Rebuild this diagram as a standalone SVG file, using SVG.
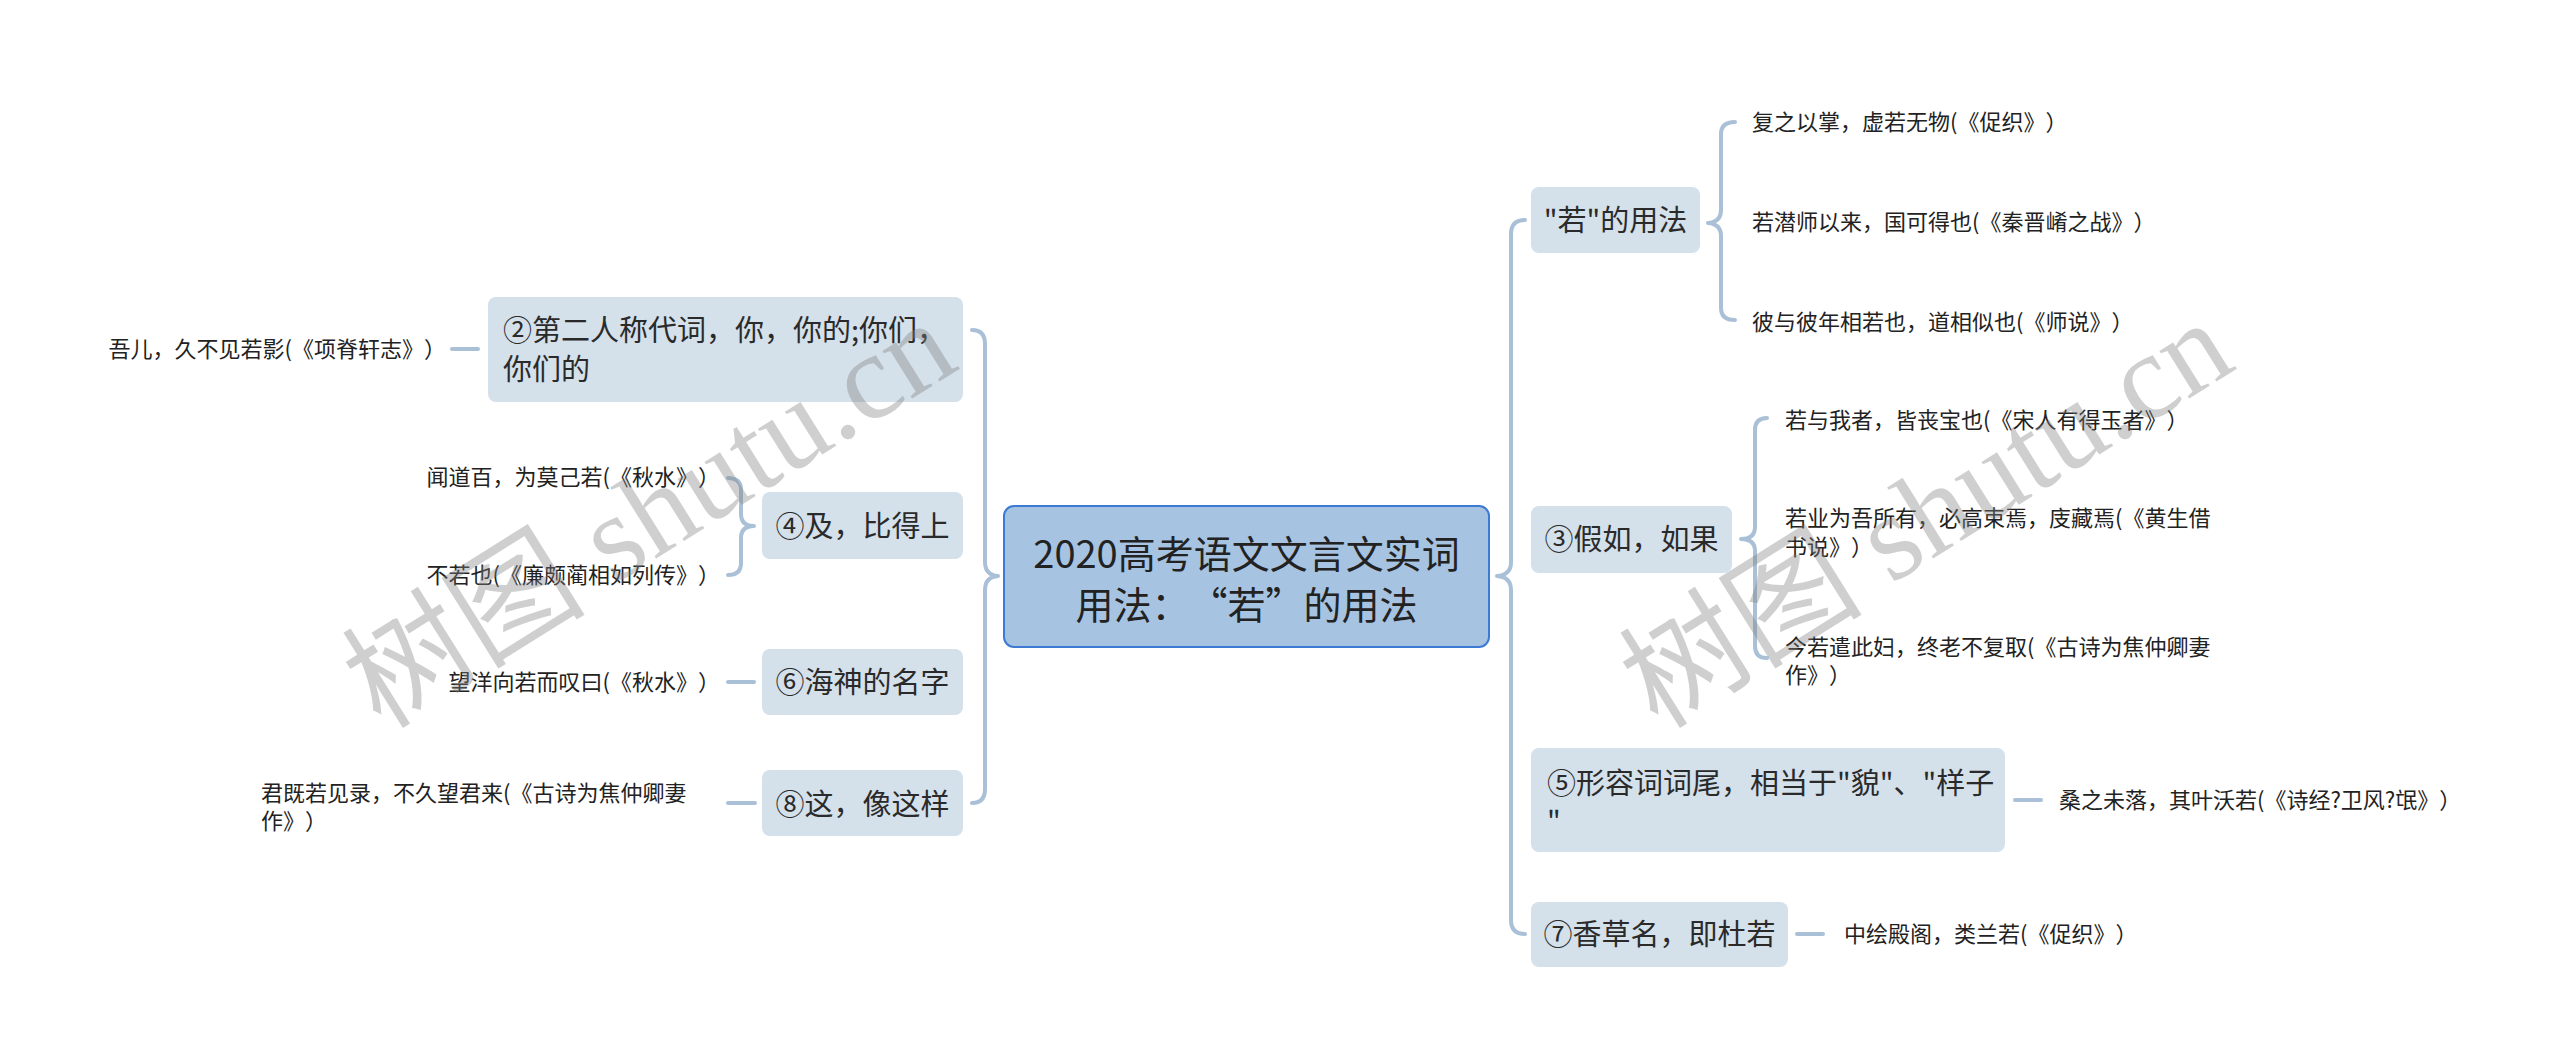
<svg xmlns="http://www.w3.org/2000/svg" width="2560" height="1063" viewBox="0 0 2560 1063">
<defs>
<style>
text{font-family:"Noto Sans CJK SC","Noto Sans",sans-serif;fill:#2a2a2a;text-spacing-trim:space-all}
.box{fill:#d4e0ea}
.root{fill:#a6c3e1;stroke:#3d7ad4;stroke-width:2}
.nt{font-size:29px}
.rt{font-size:38px;text-anchor:middle;fill:#222}
.lt{font-size:22px;fill:#222}
.mid{text-anchor:middle}
.end{text-anchor:end}
.con{fill:none;stroke:#a9c0d7;stroke-width:4;stroke-linecap:round;stroke-linejoin:round}
.wm{font-family:"Liberation Serif","Noto Sans CJK SC",serif;font-size:122px;fill:#808080;fill-opacity:0.38;text-anchor:middle}
</style>
</defs>
<rect width="2560" height="1063" fill="#ffffff"/>

<g id="connectors">
<path class="con" d="M972 330 Q985 330 985 344 L985 562 Q985 575 998 576 Q985 577 985 590 L985 789 Q985 803 972 803"/>
<path class="con" d="M1525 220 Q1511 220 1511 234 L1511 562 Q1511 575 1497 576 Q1511 577 1511 590 L1511 920 Q1511 934 1525 934"/>
<path class="con" d="M728 478 Q741 478 741 490 L741 514 Q741 526 754 526 Q741 526 741 538 L741 563 Q741 575 728 575"/>
<path class="con" d="M1735 122 Q1721 122 1721 134 L1721 210 Q1721 222 1708 223 Q1721 224 1721 236 L1721 308 Q1721 320 1735 320"/>
<path class="con" d="M1767 418 Q1755 418 1755 430 L1755 527 Q1755 539 1741 539 Q1755 539 1755 551 L1755 646 Q1755 658 1767 658"/>
<path class="con" d="M452 349 L478 349"/>
<path class="con" d="M728 682 L754 682"/>
<path class="con" d="M728 803 L755 803"/>
<path class="con" d="M2015 800 L2041 800"/>
<path class="con" d="M1797 934 L1823 934"/>
</g>

<g id="root">
<rect class="root" x="1004" y="506" width="485" height="141" rx="10"/>
<text class="rt" x="1246.5" y="568">2020高考语文文言文实词</text>
<text class="rt" x="1246.5" y="619">用法：“若”的用法</text>
</g>

<g id="n2">
<rect class="box" x="488" y="297" width="475" height="105" rx="8"/>
<text class="nt" x="503" y="341">②第二人称代词，你，你的;你们，</text>
<text class="nt" x="503" y="380">你们的</text>
</g>
<g id="n2-l1"><text class="lt end" x="446" y="357">吾儿，久不见若影(《项脊轩志》）</text></g>

<g id="n4">
<rect class="box" x="762" y="492" width="201" height="67" rx="8"/>
<text class="nt mid" x="862.5" y="537">④及，比得上</text>
</g>
<g id="n4-l1"><text class="lt end" x="720" y="485">闻道百，为莫己若(《秋水》）</text></g>
<g id="n4-l2"><text class="lt end" x="720" y="583">不若也(《廉颇蔺相如列传》）</text></g>

<g id="n6">
<rect class="box" x="762" y="649" width="201" height="66" rx="8"/>
<text class="nt mid" x="862.5" y="693">⑥海神的名字</text>
</g>
<g id="n6-l1"><text class="lt end" x="720" y="690">望洋向若而叹曰(《秋水》）</text></g>

<g id="n8">
<rect class="box" x="762" y="770" width="201" height="66" rx="8"/>
<text class="nt mid" x="862.5" y="815">⑧这，像这样</text>
</g>
<g id="n8-l1">
<text class="lt" x="261" y="801">君既若见录，不久望君来(《古诗为焦仲卿妻</text>
<text class="lt" x="261" y="829">作》）</text>
</g>

<g id="r1">
<rect class="box" x="1531" y="187" width="169" height="66" rx="8"/>
<text class="nt mid" x="1615.5" y="231">"若"的用法</text>
</g>
<g id="r1-l1"><text class="lt" x="1752" y="130">复之以掌，虚若无物(《促织》）</text></g>
<g id="r1-l2"><text class="lt" x="1752" y="230">若潜师以来，国可得也(《秦晋崤之战》）</text></g>
<g id="r1-l3"><text class="lt" x="1752" y="330">彼与彼年相若也，道相似也(《师说》）</text></g>

<g id="r3">
<rect class="box" x="1531" y="506" width="201" height="67" rx="8"/>
<text class="nt mid" x="1631.5" y="550">③假如，如果</text>
</g>
<g id="r3-l1"><text class="lt" x="1785" y="428">若与我者，皆丧宝也(《宋人有得玉者》）</text></g>
<g id="r3-l2">
<text class="lt" x="1785" y="526">若业为吾所有，必高束焉，庋藏焉(《黄生借</text>
<text class="lt" x="1785" y="555">书说》）</text>
</g>
<g id="r3-l3">
<text class="lt" x="1785" y="655">今若遣此妇，终老不复取(《古诗为焦仲卿妻</text>
<text class="lt" x="1785" y="683">作》）</text>
</g>

<g id="r5">
<rect class="box" x="1531" y="748" width="474" height="104" rx="8"/>
<text class="nt" x="1547" y="794">⑤形容词词尾，相当于"貌"、"样子</text>
<text class="nt" x="1547" y="832">"</text>
</g>
<g id="r5-l1"><text class="lt" x="2059" y="808">桑之未落，其叶沃若(《诗经?卫风?氓》）</text></g>

<g id="r7">
<rect class="box" x="1531" y="902" width="257" height="65" rx="8"/>
<text class="nt mid" x="1659.5" y="945">⑦香草名，即杜若</text>
</g>
<g id="r7-l1"><text class="lt" x="1844" y="942">中绘殿阁，类兰若(《促织》）</text></g>

<g id="watermark">
<text class="wm" x="650" y="555" transform="rotate(-32 650 515)">树图 shutu.cn</text>
<text class="wm" x="1927" y="555" transform="rotate(-32 1927 515)">树图 shutu.cn</text>
</g>
</svg>
